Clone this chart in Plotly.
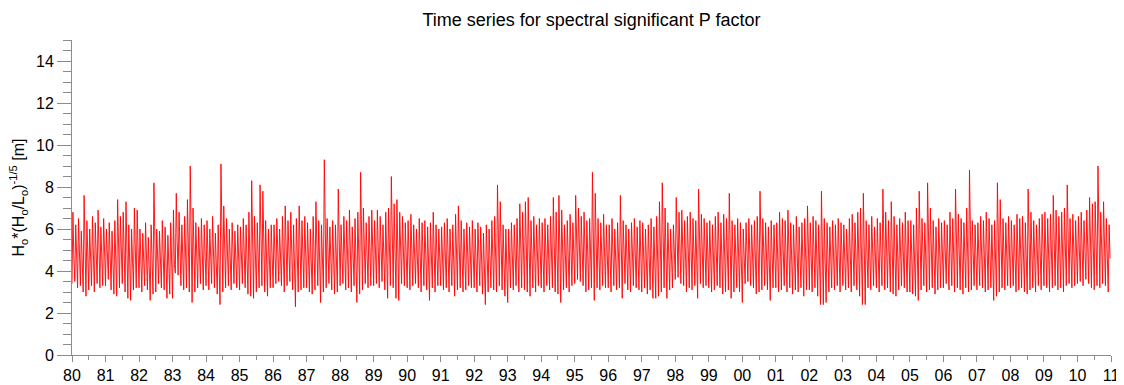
import plotly.graph_objects as go

years = list(range(1980, 2011))
tick_years = list(range(1980, 2012))
tick_labels = ["80", "81", "82", "83", "84", "85", "86", "87", "88", "89",
               "90", "91", "92", "93", "94", "95", "96", "97", "98", "99",
               "00", "01", "02", "03", "04", "05", "06", "07", "08", "09",
               "10", "11"]

# monthly upper envelope (m), one row per year
monthly_high = [
    6.8, 6.2, 6.5, 5.9, 7.6, 6.4, 6.0, 6.6, 6.3, 6.9, 6.1, 6.5,   # 1980
    6.0, 6.3, 5.9, 6.4, 7.4, 6.6, 6.8, 7.3, 6.2, 6.0, 7.0, 6.9,   # 1981
    6.0, 5.8, 6.3, 5.6, 6.2, 8.2, 6.0, 5.9, 6.4, 6.1, 5.7, 6.3,   # 1982
    6.9, 7.7, 6.8, 6.2, 6.6, 7.4, 9.0, 7.0, 6.3, 6.1, 6.5, 6.2,   # 1983
    6.4, 6.0, 6.6, 5.8, 6.2, 9.1, 7.1, 6.5, 6.0, 6.3, 5.9, 6.2,   # 1984
    6.1, 6.5, 6.2, 6.8, 8.3, 6.6, 6.3, 8.1, 7.8, 6.4, 6.0, 6.2,   # 1985
    6.2, 6.5, 6.0, 6.6, 7.1, 6.4, 6.8, 6.2, 6.5, 7.1, 6.4, 6.6,   # 1986
    6.3, 6.0, 6.6, 7.3, 6.4, 6.2, 9.3, 6.5, 6.1, 6.4, 6.2, 7.9,   # 1987
    6.2, 6.6, 6.4, 6.9, 6.1, 6.5, 6.8, 8.7, 7.0, 6.3, 6.6, 6.9,   # 1988
    6.4, 6.9, 6.6, 6.2, 6.8, 7.0, 8.5, 7.2, 7.4, 6.8, 6.6, 6.3,   # 1989
    6.4, 6.7, 6.2, 6.0, 6.5, 6.3, 6.4, 6.1, 6.3, 6.8, 6.2, 6.0,   # 1990
    6.1, 6.3, 6.5, 6.0, 6.2, 6.7, 7.1, 6.4, 6.0, 6.3, 6.1, 6.4,   # 1991
    6.0, 6.3, 6.1, 5.8, 6.2, 6.0, 6.4, 6.6, 8.1, 7.3, 6.2, 6.0,   # 1992
    6.0, 6.3, 6.2, 6.5, 7.2, 6.8, 7.3, 7.5, 6.4, 6.6, 6.2, 6.5,   # 1993
    6.3, 6.5, 6.2, 6.6, 7.5, 6.8, 7.6, 6.9, 6.2, 6.4, 6.7, 6.3,   # 1994
    7.6, 7.0, 6.6, 6.8, 6.4, 6.5, 8.7, 7.7, 6.5, 6.3, 6.7, 6.2,   # 1995
    6.2, 6.5, 6.0, 6.3, 7.6, 6.4, 6.2, 6.0, 6.3, 6.5, 6.1, 6.4,   # 1996
    6.3, 6.0, 6.2, 6.5, 6.1, 6.6, 7.3, 8.2, 7.0, 6.3, 6.0, 6.2,   # 1997
    7.5, 6.8, 6.9, 6.4, 6.6, 6.8, 6.5, 6.4, 7.9, 6.7, 6.5, 6.3,   # 1998
    6.4, 6.2, 6.6, 6.8, 6.3, 6.7, 6.5, 7.7, 6.4, 6.2, 6.5, 6.3,   # 1999
    6.0, 6.3, 6.5, 6.2, 6.4, 6.6, 7.8, 6.5, 6.3, 6.1, 6.4, 6.2,   # 2000
    6.3, 6.8, 6.5, 6.4, 6.9, 6.3, 6.2, 6.6, 6.1, 6.3, 6.5, 7.1,   # 2001
    6.3, 6.6, 6.4, 6.2, 7.8, 6.5, 6.3, 6.1, 6.4, 6.2, 6.5, 6.3,   # 2002
    6.2, 6.0, 6.5, 6.7, 6.3, 6.8, 7.0, 7.7, 6.4, 6.2, 6.6, 6.1,   # 2003
    6.5, 6.3, 7.9, 6.8, 6.4, 7.3, 6.6, 6.2, 6.5, 6.3, 6.8, 6.4,   # 2004
    6.4, 6.2, 7.0, 7.8, 6.5, 6.3, 8.2, 7.0, 6.4, 6.1, 6.5, 6.3,   # 2005
    6.4, 6.2, 6.8, 6.5, 7.9, 6.7, 6.5, 6.3, 7.0, 8.8, 6.4, 6.2,   # 2006
    6.3, 6.6, 6.4, 6.8, 6.5, 6.2, 6.4, 8.2, 7.4, 6.5, 6.3, 6.6,   # 2007
    6.4, 6.2, 6.7, 6.5, 6.6, 6.3, 7.9, 6.8, 6.4, 6.2, 6.5, 6.7,   # 2008
    6.8, 6.5, 6.7, 7.6, 6.9, 6.6, 6.8, 7.0, 8.1, 6.5, 6.7, 6.4,   # 2009
    6.6, 6.8, 6.4, 6.9, 7.5, 7.2, 7.3, 9.0, 6.8, 7.3, 6.5, 6.2,   # 2010
]

# monthly lower envelope (m), one row per year
monthly_low = [
    3.4, 3.5, 3.2, 3.3, 3.0, 2.8, 3.1, 3.3, 3.0, 3.4, 3.2, 3.3,   # 1980
    3.3, 3.6, 3.1, 2.9, 2.8, 3.2, 3.4, 3.0, 2.7, 2.6, 3.1, 3.2,   # 1981
    3.2, 3.0, 3.3, 3.1, 2.6, 2.9, 3.0, 3.4, 3.2, 3.1, 2.7, 2.9,   # 1982
    2.7, 3.9, 3.8, 3.3, 3.1, 3.2, 3.0, 2.5, 3.0, 3.2, 3.4, 3.1,   # 1983
    3.3, 3.1, 3.4, 3.2, 2.9, 2.4, 3.0, 3.2, 3.3, 3.1, 3.4, 3.2,   # 1984
    3.1, 3.4, 3.2, 2.9, 2.8, 2.7, 3.0, 3.2, 3.3, 3.0, 2.8, 3.2,   # 1985
    3.2, 3.4, 3.5, 3.3, 3.0, 3.3, 3.5, 3.1, 2.3, 3.0, 3.1, 3.2,   # 1986
    3.2, 3.0, 2.9, 3.1, 3.3, 2.5, 3.0, 3.2, 3.4, 3.1, 2.9, 3.0,   # 1987
    3.3, 3.4, 3.1, 3.2, 3.0, 3.3, 2.5, 2.9, 3.1, 3.4, 3.2, 3.3,   # 1988
    3.3, 3.4, 3.2, 3.5, 3.1, 2.7, 3.3, 3.2, 2.7, 2.6, 3.4, 3.3,   # 1989
    3.2, 3.1, 3.3, 3.4, 3.2, 3.0, 3.3, 3.1, 2.6, 3.2, 3.0, 3.3,   # 1990
    3.3, 3.1, 3.2, 3.0, 3.3, 2.8, 3.1, 3.2, 3.0, 3.1, 3.3, 3.2,   # 1991
    3.2, 3.0, 3.3, 2.9, 2.4, 3.0, 3.2, 3.1, 3.0, 3.3, 3.1, 2.8,   # 1992
    2.5, 3.2, 3.1, 3.3, 3.0, 3.2, 3.1, 3.0, 2.8, 3.2, 3.0, 3.3,   # 1993
    3.2, 3.0, 3.3, 3.1, 3.2, 3.0, 2.9, 2.5, 3.1, 3.2, 3.0, 3.3,   # 1994
    3.4, 3.6, 3.5, 3.3, 3.0, 3.1, 3.2, 2.6, 3.2, 3.1, 3.3, 3.2,   # 1995
    3.2, 3.0, 3.3, 3.1, 3.2, 2.7, 3.4, 3.1, 3.0, 3.3, 3.2, 3.1,   # 1996
    3.0, 3.2, 2.9, 3.1, 2.7, 2.7, 2.8, 3.0, 3.2, 2.7, 3.1, 3.2,   # 1997
    3.6, 3.7, 3.4, 3.3, 3.0, 3.2, 3.1, 3.3, 2.7, 3.4, 3.2, 3.3,   # 1998
    3.2, 3.0, 3.1, 3.3, 3.2, 2.9, 3.0, 3.1, 2.7, 3.0, 3.2, 3.0,   # 1999
    2.5, 3.4, 3.5, 3.3, 3.2, 2.9, 3.0, 3.1, 3.3, 3.1, 2.6, 3.2,   # 2000
    3.2, 3.0, 3.1, 3.3, 3.0, 3.2, 2.9, 3.1, 3.0, 3.2, 2.8, 3.1,   # 2001
    3.1, 3.0, 3.2, 2.8, 2.4, 2.4, 2.5, 3.0, 3.2, 3.1, 3.3, 3.0,   # 2002
    3.3, 3.1, 3.2, 3.0, 3.3, 3.1, 2.8, 2.4, 2.4, 3.2, 3.1, 3.3,   # 2003
    3.2, 3.0, 3.3, 3.1, 3.2, 3.0, 2.9, 2.8, 3.1, 3.3, 3.2, 3.0,   # 2004
    3.0, 2.9, 2.8, 2.6, 3.1, 3.3, 3.0, 3.1, 3.2, 2.9, 3.1, 3.2,   # 2005
    3.2, 3.4, 3.1, 3.3, 3.0, 3.2, 3.1, 2.9, 3.2, 3.0, 3.1, 3.3,   # 2006
    3.1, 3.3, 3.2, 3.0, 3.1, 3.2, 2.6, 2.8, 3.0, 3.2, 3.1, 3.3,   # 2007
    3.2, 3.3, 3.0, 3.1, 3.2, 3.0, 2.9, 3.1, 3.2, 3.0, 3.3, 3.1,   # 2008
    3.3, 3.2, 3.0, 3.2, 3.3, 3.1, 3.2, 3.0, 3.3, 3.4, 3.2, 3.3,   # 2009
    3.4, 3.5, 3.3, 3.6, 3.4, 3.2, 3.1, 3.3, 3.2, 3.4, 3.3, 3.0,   # 2010
]

# monthly typical (central) level (m), one row per year
monthly_mid = [
    4.6, 4.8, 4.5, 4.4, 4.9, 4.3, 4.5, 4.7, 4.4, 4.6, 5.0, 4.7,   # 1980
    4.5, 4.8, 4.4, 4.6, 4.9, 4.7, 4.3, 4.8, 4.4, 4.2, 4.6, 4.9,   # 1981
    4.4, 4.3, 4.6, 4.5, 4.2, 4.7, 4.4, 4.6, 4.5, 4.3, 4.1, 4.4,   # 1982
    4.3, 5.4, 5.3, 4.7, 4.5, 4.8, 4.6, 4.2, 4.5, 4.6, 4.7, 4.4,   # 1983
    4.6, 4.4, 4.7, 4.5, 4.3, 4.2, 4.6, 4.7, 4.5, 4.8, 4.6, 4.4,   # 1984
    4.5, 4.7, 4.6, 4.4, 4.8, 4.3, 4.5, 4.9, 4.7, 4.5, 4.4, 4.6,   # 1985
    5.0, 5.2, 4.8, 4.6, 4.9, 4.4, 4.7, 4.5, 4.2, 4.6, 4.5, 4.7,   # 1986
    4.5, 4.4, 4.6, 4.8, 4.5, 4.3, 4.9, 4.6, 4.4, 4.5, 4.7, 4.6,   # 1987
    4.6, 4.8, 4.5, 4.7, 4.4, 4.6, 4.3, 4.9, 4.5, 4.7, 4.6, 4.8,   # 1988
    4.7, 4.9, 4.6, 4.8, 5.1, 5.2, 5.3, 4.9, 4.5, 4.4, 4.7, 4.6,   # 1989
    4.6, 4.8, 4.5, 4.7, 4.6, 4.4, 4.7, 4.5, 4.3, 4.6, 4.5, 4.7,   # 1990
    4.5, 4.4, 4.7, 4.5, 4.6, 4.3, 4.8, 4.6, 4.4, 4.5, 4.7, 4.6,   # 1991
    4.5, 4.3, 4.6, 4.4, 4.1, 4.5, 4.6, 4.4, 4.8, 4.7, 4.5, 4.3,   # 1992
    4.2, 4.5, 4.4, 4.6, 4.8, 4.7, 4.9, 4.6, 4.4, 4.6, 4.5, 4.7,   # 1993
    4.6, 4.4, 4.7, 4.5, 4.8, 4.6, 4.7, 4.3, 4.5, 4.6, 4.8, 4.7,   # 1994
    5.1, 5.2, 4.9, 4.7, 4.5, 4.6, 4.8, 4.6, 4.5, 4.7, 4.6, 4.8,   # 1995
    4.6, 4.5, 4.7, 4.4, 4.8, 4.5, 4.6, 4.4, 4.5, 4.7, 4.6, 4.5,   # 1996
    4.5, 4.6, 4.4, 4.5, 4.3, 4.2, 4.6, 4.8, 4.5, 4.3, 4.5, 4.6,   # 1997
    5.2, 5.3, 5.0, 4.8, 4.6, 4.7, 4.5, 4.6, 4.8, 4.7, 4.6, 4.8,   # 1998
    4.7, 4.5, 4.8, 4.6, 4.7, 4.5, 4.6, 4.9, 4.5, 4.4, 4.6, 4.7,   # 1999
    4.6, 4.8, 5.0, 4.9, 4.7, 4.5, 4.8, 4.6, 4.5, 4.6, 4.3, 4.6,   # 2000
    4.7, 4.9, 4.6, 4.8, 4.5, 4.7, 4.4, 4.6, 4.5, 4.7, 4.4, 4.8,   # 2001
    4.6, 4.5, 4.7, 4.4, 4.3, 4.1, 4.2, 4.5, 4.6, 4.7, 4.8, 4.6,   # 2002
    4.7, 4.6, 4.8, 4.5, 4.7, 4.6, 4.4, 4.3, 4.2, 4.6, 4.7, 4.8,   # 2003
    4.7, 4.5, 4.9, 4.6, 4.7, 4.8, 4.5, 4.4, 4.6, 4.7, 4.8, 4.6,   # 2004
    4.6, 4.5, 4.7, 4.6, 4.8, 4.7, 4.9, 4.6, 4.5, 4.4, 4.6, 4.7,   # 2005
    4.7, 4.8, 4.6, 4.7, 4.9, 4.6, 4.7, 4.5, 4.8, 4.9, 4.6, 4.7,   # 2006
    4.6, 4.8, 4.7, 4.5, 4.6, 4.7, 4.4, 4.8, 4.7, 4.6, 4.5, 4.8,   # 2007
    4.7, 4.8, 4.6, 4.7, 4.8, 4.6, 4.7, 4.8, 4.6, 4.5, 4.7, 4.9,   # 2008
    4.8, 4.7, 4.6, 4.8, 4.9, 4.7, 4.8, 4.9, 5.0, 4.8, 4.9, 4.7,   # 2009
    4.8, 5.0, 4.9, 5.1, 5.2, 5.3, 5.1, 5.2, 4.9, 5.0, 4.8, 4.6,   # 2010
]

# build the time axis (decimal years): low, high, typical level within each month
t = []
p = []
for i, yr in enumerate(years):
    for m in range(12):
        k = i * 12 + m
        t.append(yr + m / 12.0)
        p.append(monthly_low[k])
        t.append(yr + (m + 1.0 / 3.0) / 12.0)
        p.append(monthly_high[k])
        t.append(yr + (m + 2.0 / 3.0) / 12.0)
        p.append(monthly_mid[k])

fig = go.Figure()
fig.add_trace(go.Scatter(
    x=t, y=p, mode="lines",
    line=dict(color="#ff0000", width=0.9),
    hoverinfo="skip", showlegend=False,
))

axis_gray = "#8c8c8c"
font_family = "Liberation Sans, Arial, Helvetica, sans-serif"

# the page body adds an 8 px offset, so the figure is 8 px smaller
fig.update_layout(
    width=1116, height=377,
    margin=dict(l=64, r=13, t=32, b=30, autoexpand=False),
    paper_bgcolor="white", plot_bgcolor="white",
    font=dict(family=font_family, color="black"),
    title=dict(text="Time series for spectral significant P factor",
               xref="paper", x=0.5, xanchor="center",
               yref="container", y=1 - 12 / 377, yanchor="middle",
               font=dict(size=18, color="black", family=font_family)),
    showlegend=False,
)

fig.update_xaxes(
    range=[1980, 2011], showgrid=False, zeroline=False, automargin=False,
    showline=True, linecolor=axis_gray, linewidth=1,
    ticks="outside", ticklen=6, tickcolor=axis_gray, tickwidth=1,
    tickvals=tick_years, ticktext=tick_labels,
    tickfont=dict(size=16, color="black"),
    minor=dict(dtick=0.5, tick0=1980, ticks="outside", ticklen=4,
               tickcolor=axis_gray, showgrid=False),
)
fig.update_yaxes(
    range=[0, 15], showgrid=False, zeroline=False, automargin=False,
    showline=True, linecolor=axis_gray, linewidth=1,
    ticks="outside", ticklen=14, tickcolor=axis_gray, tickwidth=1,
    tickvals=[0, 2, 4, 6, 8, 10, 12, 14],
    tickfont=dict(size=16, color="black"),
    minor=dict(dtick=0.5, tick0=0, ticks="outside", ticklen=8,
               tickcolor=axis_gray, showgrid=False),
)

fig.add_annotation(
    text="H<sub>o</sub>*(H<sub>o</sub>/L<sub>o</sub>)<sup>-1/5</sup> [m]",
    xref="paper", yref="paper", x=-54 / 1039, y=0.5,
    xanchor="center", yanchor="middle", textangle=-90, showarrow=False,
    font=dict(size=16, color="black", family=font_family),
)

fig.write_html("out.html")
